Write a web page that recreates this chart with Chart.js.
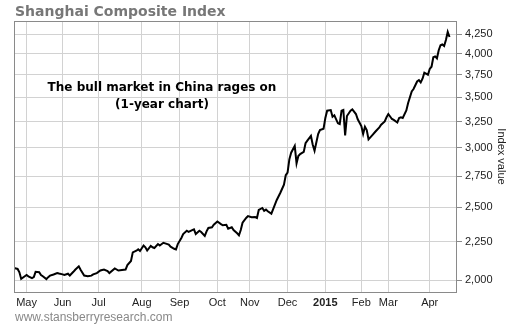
<!DOCTYPE html>
<html>
<head>
<meta charset="utf-8">
<script src="https://cdn.jsdelivr.net/npm/chart.js@4.4.1/dist/chart.umd.min.js"></script>
<style>
  body { margin: 0; background: #fff; }
  #chart { display: block; }
</style>
</head>
<body>
<canvas id="chart" width="510" height="325"></canvas>
<script>
// trading-day index (0 = late Apr 2014) and closing level of the index
var days = [
  0, 2, 3, 4, 6, 7, 8, 10, 11, 12,
  14, 15, 16, 18, 19, 20, 22, 24, 25, 27,
  28, 30, 31, 33, 34, 36, 37, 39, 41, 43,
  44, 46, 48, 50, 52, 53, 56, 58, 60, 62,
  63, 65, 66, 68, 69, 70, 72, 73, 74, 76,
  77, 78, 80, 81, 83, 84, 86, 87, 89, 90,
  91, 93, 94, 96, 97, 99, 100, 101, 103, 104,
  106, 107, 108, 110, 111, 113, 115, 116, 118, 119,
  121, 122, 124, 125, 126, 127, 129, 130, 132, 134,
  135, 136, 138, 139, 140, 141, 143, 144, 146, 148,
  150, 151, 152, 153, 154, 156, 157, 158, 159, 161,
  162, 163, 165, 166, 167, 169, 170, 172, 173, 174,
  176, 177, 178, 180, 181, 182, 183, 184, 185, 187,
  188, 190, 191, 193, 194, 195, 196, 197, 199, 201,
  203, 204, 206, 207, 208, 210, 211, 213, 214, 215,
  216, 218, 219, 221, 222, 224, 225, 226, 227, 228,
  230, 231, 232, 233, 234, 235, 236, 237, 238, 239,
  240, 241, 242
];
var closes = [
  2075, 2069, 2048, 2007, 2023, 2031, 2023, 2012, 2018, 2051,
  2048, 2031, 2023, 2006, 2018, 2027, 2034, 2043, 2040, 2035,
  2031, 2039, 2028, 2051, 2064, 2086, 2064, 2028, 2023, 2027,
  2035, 2043, 2059, 2065, 2056, 2043, 2072, 2059, 2062, 2065,
  2094, 2120, 2177, 2188, 2197, 2186, 2223, 2211, 2189, 2220,
  2211, 2206, 2233, 2223, 2242, 2238, 2230, 2215, 2201, 2197,
  2233, 2275, 2303, 2326, 2318, 2331, 2336, 2303, 2326, 2317,
  2289, 2322, 2346, 2351, 2369, 2393, 2374, 2365, 2369, 2341,
  2351, 2331, 2308, 2294, 2331, 2384, 2419, 2433, 2424, 2426,
  2419, 2479, 2494, 2473, 2482, 2469, 2451, 2486, 2556, 2613,
  2679, 2757, 2779, 2895, 2954, 3016, 2860, 2925, 2942, 2961,
  3041, 3065, 3110, 3028, 2973, 3129, 3167, 3180, 3286, 3360,
  3367, 3299, 3313, 3233, 3226, 3360, 3367, 3114, 3306, 3360,
  3374, 3326, 3273, 3206, 3129, 3199, 3167, 3078, 3116, 3155,
  3193, 3219, 3251, 3293, 3326, 3276, 3266, 3241, 3286, 3293,
  3286, 3362, 3440, 3564, 3591, 3675, 3691, 3665, 3706, 3775,
  3752, 3818, 3845, 3958, 3968, 3945, 4044, 4106, 4116, 4097,
  4173, 4277, 4211
];

// first trading day of each month, and its label
var monthStarts = [7, 27, 47, 71, 92, 113, 131, 152, 173, 193, 208, 231];
var monthLabels = ['May', 'Jun', 'Jul', 'Aug', 'Sep', 'Oct', 'Nov', 'Dec', '2015', 'Feb', 'Mar', 'Apr'];

var yTicks = [2000, 2250, 2500, 2750, 3000, 3250, 3500, 3750, 4000, 4250];

var tickFont = { family: 'Liberation Sans', size: 11 };

// border round the plot plus the headline, note and site name
var decorPlugin = {
  id: 'decor',
  afterDraw: function (chart) {
    var ctx = chart.ctx;
    var a = chart.chartArea;
    ctx.save();
    ctx.strokeStyle = '#8a8a8a';
    ctx.lineWidth = 1;
    ctx.strokeRect(a.left + 0.5, a.top + 0.5, a.right - a.left, a.bottom - a.top);

    ctx.textBaseline = 'middle';
    ctx.fillStyle = '#777';
    ctx.font = 'bold 14px "DejaVu Sans"';
    ctx.textAlign = 'left';
    ctx.fillText('Shanghai Composite Index', 15, 12);

    ctx.fillStyle = '#000';
    ctx.font = 'bold 12px "DejaVu Sans"';
    ctx.textAlign = 'center';
    ctx.fillText('The bull market in China rages on', 162, 88);
    ctx.fillText('(1-year chart)', 162, 105);

    ctx.fillStyle = '#888';
    ctx.font = '12px "Liberation Sans"';
    ctx.textAlign = 'left';
    ctx.fillText('www.stansberryresearch.com', 15, 318);
    ctx.restore();
  }
};

new Chart(document.getElementById('chart'), {
  type: 'line',
  data: {
    datasets: [{
      data: days.map(function (d, i) { return { x: d, y: closes[i] }; }),
      borderColor: '#000',
      borderWidth: 2,
      pointRadius: 0,
      tension: 0,
      fill: false
    }]
  },
  options: {
    responsive: false,
    animation: false,
    devicePixelRatio: 1,
    layout: { padding: { left: 14, top: 21, right: 0, bottom: 0 } },
    plugins: {
      legend: { display: false },
      tooltip: { enabled: false }
    },
    scales: {
      x: {
        type: 'linear',
        min: 0,
        max: 245.6,
        afterFit: function (scale) { scale.height = 33; },
        afterBuildTicks: function (scale) {
          scale.ticks = monthStarts.map(function (v) { return { value: v }; });
        },
        grid: { color: '#d2d2d2', drawTicks: false },
        border: { display: false },
        ticks: {
          autoSkip: false,
          maxRotation: 0,
          padding: 4,
          color: '#222',
          font: function (c) {
            return c.index === 8
              ? { family: 'Liberation Sans', size: 11, weight: 'bold' }
              : tickFont;
          },
          callback: function (v, i) { return monthLabels[i]; }
        }
      },
      y: {
        type: 'logarithmic',
        position: 'right',
        min: 1928,
        max: 4423,
        afterFit: function (scale) { scale.width = 54; },
        afterBuildTicks: function (scale) {
          scale.ticks = yTicks.map(function (v) { return { value: v }; });
        },
        grid: { color: '#d2d2d2', tickColor: '#8a8a8a', tickLength: 6 },
        border: { display: false },
        ticks: {
          padding: 3,
          color: '#222',
          font: tickFont,
          callback: function (v) { return v.toLocaleString('en-US'); }
        },
        title: {
          display: true,
          text: 'Index value',
          color: '#222',
          font: tickFont,
          padding: 2
        }
      }
    }
  },
  plugins: [decorPlugin]
});
</script>
</body>
</html>
